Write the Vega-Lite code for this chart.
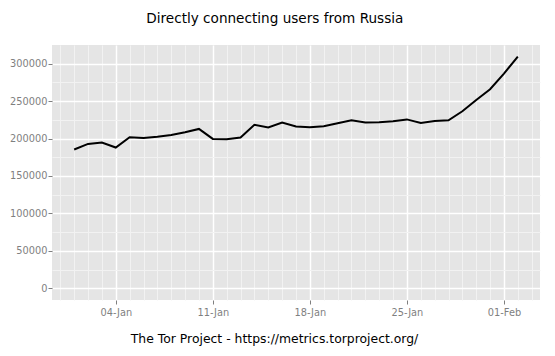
{
  "$schema": "https://vega.github.io/schema/vega-lite/v6.json",
  "width": 488,
  "height": 255,
  "autosize": {"type": "none"},
  "padding": {"left": 52, "top": 45, "right": 15, "bottom": 56},
  "background": "white",
  "config": {
    "view": {"fill": "#E5E5E5", "stroke": null},
    "font": "DejaVu Sans"
  },
  "title": {
    "text": "Directly connecting users from Russia",
    "font": "DejaVu Sans",
    "fontSize": 13.6,
    "fontWeight": "normal",
    "color": "black",
    "anchor": "middle",
    "frame": "bounds",
    "baseline": "alphabetic",
    "offset": 8
  },
  "data": {
    "values": [
      {"date": "2015-01-01", "users": 185300},
      {"date": "2015-01-02", "users": 192800},
      {"date": "2015-01-03", "users": 194600},
      {"date": "2015-01-04", "users": 188000},
      {"date": "2015-01-05", "users": 201700},
      {"date": "2015-01-06", "users": 200800},
      {"date": "2015-01-07", "users": 202200},
      {"date": "2015-01-08", "users": 204800},
      {"date": "2015-01-09", "users": 208400},
      {"date": "2015-01-10", "users": 212800},
      {"date": "2015-01-11", "users": 199500},
      {"date": "2015-01-12", "users": 199100},
      {"date": "2015-01-13", "users": 201300},
      {"date": "2015-01-14", "users": 218200},
      {"date": "2015-01-15", "users": 214700},
      {"date": "2015-01-16", "users": 221300},
      {"date": "2015-01-17", "users": 216000},
      {"date": "2015-01-18", "users": 214900},
      {"date": "2015-01-19", "users": 216400},
      {"date": "2015-01-20", "users": 220400},
      {"date": "2015-01-21", "users": 224200},
      {"date": "2015-01-22", "users": 221500},
      {"date": "2015-01-23", "users": 221600},
      {"date": "2015-01-24", "users": 223000},
      {"date": "2015-01-25", "users": 225500},
      {"date": "2015-01-26", "users": 220600},
      {"date": "2015-01-27", "users": 223300},
      {"date": "2015-01-28", "users": 224300},
      {"date": "2015-01-29", "users": 236400},
      {"date": "2015-01-30", "users": 251500},
      {"date": "2015-01-31", "users": 265700},
      {"date": "2015-02-01", "users": 286600},
      {"date": "2015-02-02", "users": 309300}
    ]
  },
  "mark": {"type": "line", "color": "black", "strokeWidth": 2, "clip": true},
  "encoding": {
    "x": {
      "field": "date",
      "type": "temporal",
      "scale": {
        "type": "utc",
        "domain": [
          {"year": 2014, "month": 12, "date": 30, "hours": 9, "minutes": 36, "utc": true},
          {"year": 2015, "month": 2, "date": 3, "hours": 14, "minutes": 24, "utc": true}
        ],
        "nice": false
      },
      "axis": {
        "tickCount": {"interval": "day", "step": 1},
        "labelExpr": "utcday(datum.value) === 0 ? utcFormat(datum.value, '%d-%b') : ''",
        "labelOverlap": false,
        "labelFlush": false,
        "labelBound": false,
        "labelFont": "DejaVu Sans",
        "labelFontSize": 9.8,
        "labelColor": "#7F7F7F",
        "labelPadding": 3,
        "domain": false,
        "tickSize": 4,
        "tickWidth": 1,
        "tickColor": {"condition": {"test": "utcday(datum.value) === 0", "value": "#7F7F7F"}, "value": "transparent"},
        "grid": true,
        "gridColor": {"condition": {"test": "utcday(datum.value) === 0", "value": "#FFFFFF"}, "value": "#F2F2F2"},
        "gridWidth": {"condition": {"test": "utcday(datum.value) === 0", "value": 1.5}, "value": 1},
        "title": "The Tor Project - https://metrics.torproject.org/",
        "titleFont": "DejaVu Sans",
        "titleFontSize": 12.4,
        "titleFontWeight": "normal",
        "titleColor": "black",
        "titleX": 222,
        "titleY": 42,
        "titleAlign": "center",
        "titleBaseline": "alphabetic"
      }
    },
    "y": {
      "field": "users",
      "type": "quantitative",
      "scale": {"domain": [-15465, 324765], "nice": false, "zero": false},
      "axis": {
        "values": [0, 25000, 50000, 75000, 100000, 125000, 150000, 175000, 200000, 225000, 250000, 275000, 300000],
        "format": "d",
        "labelExpr": "datum.value % 50000 === 0 ? datum.label : ''",
        "labelOverlap": false,
        "labelFlush": false,
        "labelFont": "DejaVu Sans",
        "labelFontSize": 9.8,
        "labelColor": "#7F7F7F",
        "labelPadding": 1,
        "domain": false,
        "tickSize": 4,
        "tickWidth": 1,
        "tickColor": {"condition": {"test": "datum.value % 50000 === 0", "value": "#7F7F7F"}, "value": "transparent"},
        "grid": true,
        "gridColor": {"condition": {"test": "datum.value % 50000 === 0", "value": "#FFFFFF"}, "value": "#F2F2F2"},
        "gridWidth": {"condition": {"test": "datum.value % 50000 === 0", "value": 1.5}, "value": 1},
        "title": null
      }
    }
  }
}
